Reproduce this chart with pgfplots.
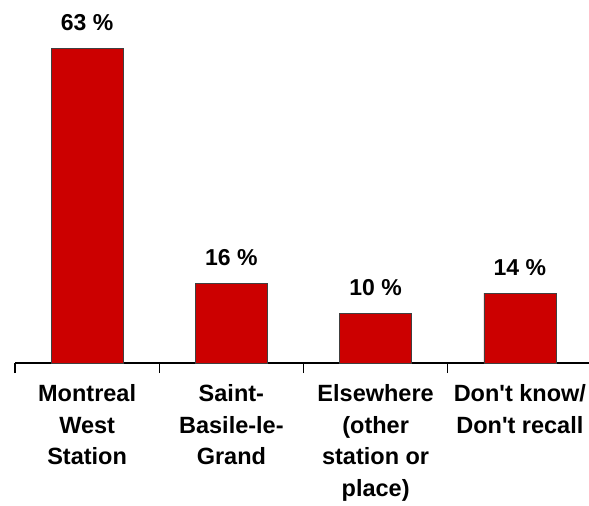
\documentclass[border=0pt]{standalone}
\usepackage{pgfplots}
\pgfplotsset{compat=1.18}
\usepackage{fontspec}
\setmainfont{Liberation Sans}
\definecolor{barred}{HTML}{CC0000}
\begin{document}
\begin{tikzpicture}
\useasboundingbox (-15bp,-143bp) rectangle (574bp,363bp);
\begin{axis}[
  at={(0,0)}, anchor=south west,
  scale only axis,
  width=577bp, height=325bp,
  xmin=-0.5, xmax=3.5,
  ymin=0, ymax=65,
  axis y line=none,
  axis x line*=bottom,
  axis line style={black, line width=1.2bp, -},
  xtick={0,1,2,3},
  xticklabels={{Montreal\\West\\Station},{Saint-\\Basile-le-\\Grand},{Elsewhere\\(other\\station or\\place)},{Don\textquotesingle t know/\\Don\textquotesingle t recall}},
  major tick length=0pt,
  minor xtick={-0.5,0.5,1.5,2.5,3.5},
  minor tick length=10bp,
  tick align=outside,
  minor tick style={black, line width=1.2bp},
  xticklabel style={font=\fontsize{23.5bp}{31.5bp}\selectfont\bfseries, align=center, anchor=north, yshift=-18bp},
  clip=false,
  ybar, bar width=72bp,
  nodes near coords={\pgfmathprintnumber[assume math mode=true]{\pgfplotspointmeta}~\%},
  nodes near coords style={font=\fontsize{23bp}{27bp}\selectfont\bfseries, anchor=base, yshift=18bp, inner sep=0pt},
]
\addplot[fill=barred, draw=black!75, line width=0.6bp] coordinates {(0,63) (1,16) (2,10) (3,14)};
\end{axis}
\end{tikzpicture}
\end{document}
